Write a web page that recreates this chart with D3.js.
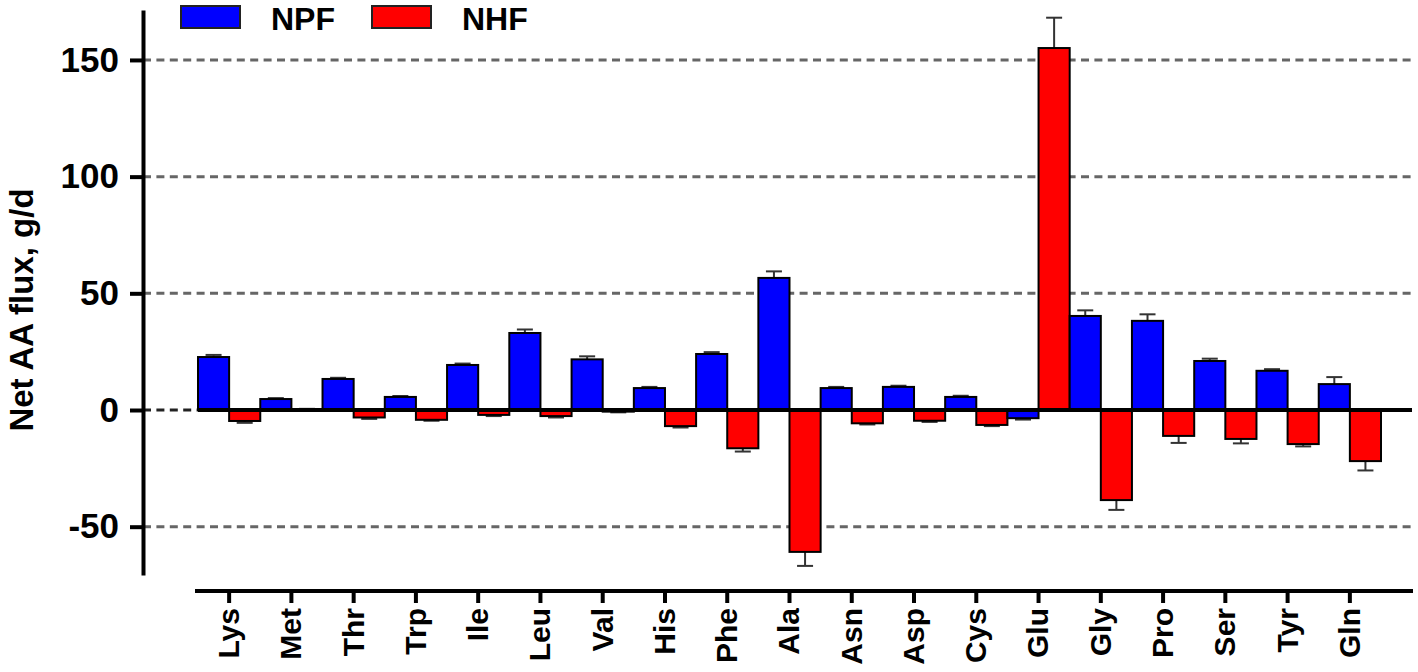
<!DOCTYPE html>
<html>
<head>
<meta charset="utf-8">
<script src="https://cdn.jsdelivr.net/npm/d3@7"></script>
<style>
  body { margin: 0; background: #fff; }
  text { font-family: Arial, "Liberation Sans", sans-serif; font-weight: bold; }
</style>
</head>
<body>
<div id="chart"></div>
<script>
// amino acids on the x axis
const categories = ['Lys', 'Met', 'Thr', 'Trp', 'Ile', 'Leu', 'Val', 'His', 'Phe', 'Ala',
  'Asn', 'Asp', 'Cys', 'Glu', 'Gly', 'Pro', 'Ser', 'Tyr', 'Gln'];
const seriesNames = ['NPF', 'NHF'];
// net flux, g/d
const npf = [22.7, 4.7, 13.3, 5.6, 19.3, 33.0, 21.7, 9.4, 24.0, 56.6, 9.4, 9.9, 5.6, -3.5, 40.3, 38.2, 21.0, 16.8, 11.1];
const npfErr = [0.9, 0.4, 0.5, 0.4, 0.6, 1.5, 1.3, 0.5, 0.8, 2.8, 0.5, 0.5, 0.5, 0.6, 2.4, 2.8, 1.0, 0.7, 3.0];
const nhf = [-4.7, 0.3, -3.2, -4.2, -2.1, -2.6, -0.7, -6.9, -16.4, -60.8, -5.7, -4.6, -6.4, 155.1, -38.6, -11.1, -12.4, -14.6, -21.9];
const nhfErr = [0.8, 0.2, 0.6, 0.4, 0.5, 0.6, 0.3, 0.6, 1.4, 6.0, 0.5, 0.5, 0.5, 13.0, 4.2, 3.0, 1.9, 1.0, 4.0];
const yTicks = [-50, 0, 50, 100, 150];
const colors = ['#0000ff', '#ff0000'];

const W = 1418, H = 672;
const svg = d3.select('#chart').append('svg')
  .attr('width', W)
  .attr('height', H);

const x = d3.scaleBand()
  .domain(categories)
  .range([198, 1381])
  .padding(0);

const xSub = d3.scaleBand()
  .domain(seriesNames)
  .range([0, x.bandwidth()])
  .padding(0);

const y = d3.scaleLinear()
  .domain([-70.7, 171.4])
  .range([575, 10]);

const gridRight = 1412;
const axisX = 143;

// dashed grid
svg.append('g')
  .selectAll('line')
  .data(yTicks)
  .enter()
  .append('line')
  .attr('x1', axisX)
  .attr('x2', gridRight)
  .attr('y1', (d) => y(d))
  .attr('y2', (d) => y(d))
  .attr('stroke', (d) => d === 0 ? '#222' : '#666')
  .attr('stroke-width', 3)
  .attr('stroke-dasharray', '8,5.4');

// bars
const rows = categories.map((c, i) => ({
  cat: c,
  vals: [
    { s: 'NPF', v: npf[i], e: npfErr[i] },
    { s: 'NHF', v: nhf[i], e: nhfErr[i] }
  ]
}));

const groups = svg.append('g')
  .selectAll('g')
  .data(rows)
  .enter()
  .append('g')
  .attr('transform', (d) => `translate(${x(d.cat)},0)`);

// error bars
const capW = 16;
groups.selectAll('.err')
  .data((d) => d.vals)
  .enter()
  .append('g')
  .attr('class', 'err')
  .each(function (d) {
    const cx = xSub(d.s) + xSub.bandwidth() / 2;
    const end = d.v >= 0 ? d.v + d.e : d.v - d.e;
    const g = d3.select(this);
    g.append('line')
      .attr('x1', cx).attr('x2', cx)
      .attr('y1', y(d.v)).attr('y2', y(end))
      .attr('stroke', '#333').attr('stroke-width', 2);
    g.append('line')
      .attr('x1', cx - capW / 2).attr('x2', cx + capW / 2)
      .attr('y1', y(end)).attr('y2', y(end))
      .attr('stroke', '#333').attr('stroke-width', 2);
  });

groups.selectAll('.bar')
  .data((d) => d.vals)
  .enter()
  .append('rect')
  .attr('class', 'bar')
  .attr('x', (d) => xSub(d.s))
  .attr('y', (d) => y(Math.max(0, d.v)))
  .attr('width', xSub.bandwidth())
  .attr('height', (d) => Math.abs(y(d.v) - y(0)))
  .attr('fill', (d) => colors[seriesNames.indexOf(d.s)])
  .attr('stroke', '#000')
  .attr('stroke-width', 2);

// zero line
svg.append('line')
  .attr('x1', x.range()[0])
  .attr('x2', gridRight)
  .attr('y1', y(0))
  .attr('y2', y(0))
  .attr('stroke', '#000')
  .attr('stroke-width', 4);

// y axis
const yAxis = svg.append('g')
  .attr('transform', `translate(${axisX},0)`)
  .call(d3.axisLeft(y).tickValues(yTicks).tickFormat((d) => String(d))
    .tickSize(13).tickPadding(11).tickSizeOuter(0));
yAxis.select('.domain').attr('stroke-width', 4);
yAxis.selectAll('.tick line').attr('stroke-width', 4);
yAxis.selectAll('.tick text')
  .attr('font-size', 35)
  .attr('fill', '#000');

// x axis
const xAxis = svg.append('g')
  .attr('transform', 'translate(0,591)')
  .call(d3.axisBottom(x).tickSize(12).tickSizeOuter(0));
xAxis.select('.domain')
  .attr('d', `M195,0H1413`)
  .attr('stroke-width', 4);
xAxis.selectAll('.tick line').attr('stroke-width', 4);
xAxis.selectAll('.tick text')
  .attr('font-size', 30)
  .attr('fill', '#000')
  .attr('text-anchor', 'end')
  .attr('transform', 'rotate(-90)')
  .attr('x', -17)
  .attr('y', 0)
  .attr('dy', '0.33em');

// y title
svg.append('text')
  .attr('transform', 'translate(33,310) rotate(-90)')
  .attr('text-anchor', 'middle')
  .attr('font-size', 33)
  .text('Net AA flux, g/d');

// legend
const legend = svg.append('g');
const legendX = [181, 372];
seriesNames.forEach((s, i) => {
  legend.append('rect')
    .attr('x', legendX[i])
    .attr('y', 6)
    .attr('width', 59)
    .attr('height', 22)
    .attr('fill', colors[i])
    .attr('stroke', '#222')
    .attr('stroke-width', 2);
  legend.append('text')
    .attr('x', legendX[i] + 90)
    .attr('y', 30)
    .attr('font-size', 32)
    .text(s);
});
</script>
</body>
</html>
